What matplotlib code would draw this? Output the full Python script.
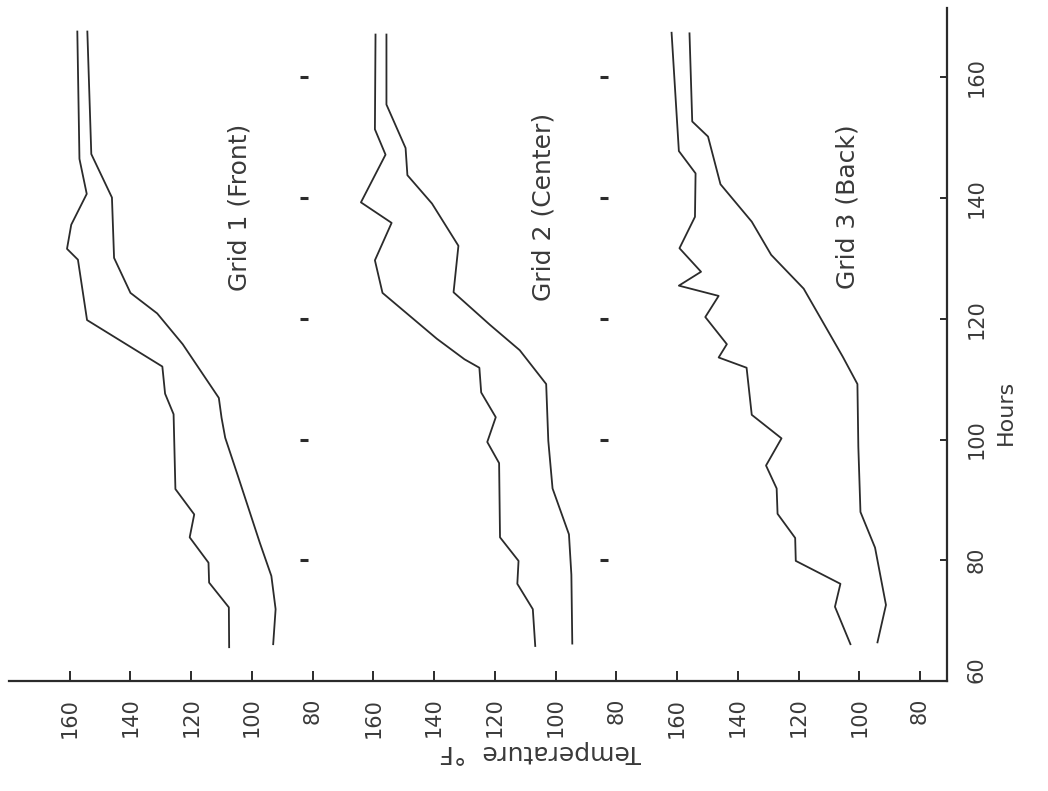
import matplotlib
matplotlib.use("Agg")
import matplotlib.pyplot as plt

# ---------------- data (hours, temperature degF) ----------------
g1_hi_h = [167.6, 146.5, 140.7, 135.6, 131.6, 129.8, 119.8, 112.1, 107.6, 104.2, 91.8, 87.6, 83.8, 79.6, 76.3, 72.2, 65.6]
g1_hi_t = [157.5, 156.8, 154.4, 159.5, 160.9, 157.3, 154.3, 129.5, 128.6, 125.8, 125.2, 119.0, 120.5, 114.3, 114.1, 107.6, 107.5]
g1_lo_h = [167.6, 147.3, 140.1, 130.1, 124.3, 120.9, 115.8, 106.9, 103.6, 100.3, 94.1, 82.9, 77.4, 71.9, 66.1]
g1_lo_t = [154.2, 152.9, 146.1, 145.4, 140.0, 131.2, 122.8, 110.9, 110.0, 108.8, 104.7, 97.4, 93.6, 92.2, 93.0]

g2_hi_h = [167.1, 151.4, 147.2, 139.3, 135.9, 129.7, 124.3, 116.7, 113.3, 111.9, 107.8, 103.7, 99.6, 96.1, 83.8, 79.9, 76.1, 71.9, 65.8]
g2_hi_t = [159.3, 159.5, 156.0, 164.1, 154.0, 159.5, 157.0, 139.1, 130.0, 125.1, 124.5, 119.7, 122.5, 118.6, 118.3, 112.2, 112.6, 107.5, 106.7]
g2_lo_h = [167.1, 155.5, 148.3, 143.8, 139.1, 132.1, 124.4, 119.0, 114.8, 109.2, 99.8, 91.9, 84.3, 77.6, 66.2]
g2_lo_t = [155.7, 155.7, 149.4, 148.8, 140.7, 132.0, 133.6, 121.6, 111.8, 103.1, 102.4, 101.0, 95.6, 94.8, 94.5]

g3_hi_h = [167.4, 147.8, 144.1, 136.9, 131.7, 127.8, 125.5, 123.8, 120.3, 115.8, 113.6, 111.9, 104.1, 100.2, 95.7, 91.9, 87.7, 83.7, 79.9, 76.1, 72.3, 66.1]
g3_hi_t = [161.8, 159.4, 153.9, 154.1, 159.2, 152.1, 159.4, 146.3, 150.7, 143.6, 146.3, 137.1, 135.4, 125.6, 130.7, 127.2, 126.9, 121.1, 120.9, 106.2, 108.0, 102.9]
g3_lo_h = [167.3, 152.7, 150.2, 142.3, 136.1, 130.6, 125.0, 113.7, 109.2, 98.8, 88.0, 82.1, 72.6, 66.4]
g3_lo_t = [155.9, 155.0, 149.8, 145.7, 135.4, 129.0, 118.3, 105.4, 100.6, 100.3, 99.6, 94.8, 91.2, 94.0]

grid_names = ["Grid 1 (Front)", "Grid 2 (Center)", "Grid 3 (Back)"]
temp_tick_labels = ["160", "140", "120", "100", "80"] * 3
hour_ticks = [60, 80, 100, 120, 140, 160]
panel_tick_hours = [80, 100, 120, 140, 160]

# ---------------- layout helpers ----------------
# Chart is drawn rotated 90 degrees: hours run upward, temperature runs leftward,
# the three grids stand side by side, each shifted by 100 units.
PANEL_SHIFT = 100
BASE = 180


def tpos(temps, k):
    return [BASE + PANEL_SHIFT * k - t for t in temps]


W, H = 1048, 791
fig = plt.figure(figsize=(W / 100, H / 100), dpi=100)
fig.patch.set_facecolor("white")
ax = fig.add_axes([9 / W, 1 - 681 / H, (947 - 9) / W, (681 - 8) / H])

ink = "#2b2b2b"
txt = "#3a3a3a"
series = [
    (g1_hi_h, g1_hi_t, g1_lo_h, g1_lo_t),
    (g2_hi_h, g2_hi_t, g2_lo_h, g2_lo_t),
    (g3_hi_h, g3_hi_t, g3_lo_h, g3_lo_t),
]
for k, (hh, ht, lh, lt) in enumerate(series):
    ax.plot(tpos(ht, k), hh, color=ink, lw=1.3)
    ax.plot(tpos(lt, k), lh, color=ink, lw=1.3)
    ax.text(76 + PANEL_SHIFT * k, 138.5, grid_names[k], rotation=90,
            ha="center", va="center", fontsize=18, color=txt)

# internal hour tick dashes between panels
for xs in (97, 196):
    ax.plot([xs] * len(panel_tick_hours), panel_tick_hours, linestyle="none",
            marker="_", markersize=6, mew=2.2, color=ink)

ax.set_xlim(0, 308.9)
ax.set_ylim(60, 171.5)

for side in ("top", "left"):
    ax.spines[side].set_visible(False)
for side in ("bottom", "right"):
    ax.spines[side].set_linewidth(1.6)
    ax.spines[side].set_color(ink)

ax.set_xticks(list(range(20, 301, 20)))
ax.set_xticklabels(temp_tick_labels, rotation=90, fontsize=15, color=txt)
ax.tick_params(axis="x", direction="in", length=7, width=1.4, color=ink, pad=12)

ax.yaxis.tick_right()
ax.set_yticks(hour_ticks[1:])
ax.set_yticklabels([str(h) for h in hour_ticks[1:]], rotation=90, va="center",
                   fontsize=15, color=txt)
ax.tick_params(axis="y", direction="in", length=5, width=1.4, color=ink, pad=14)
fig.text(977 / W, 1 - 670 / H, str(hour_ticks[0]), rotation=90, ha="center",
         va="center", fontsize=15, color=txt)

fig.text(1006 / W, 1 - 412 / H, "Hours", rotation=90, ha="center", va="center",
         fontsize=16, color=txt)
fig.text(540 / W, 1 - 752 / H, "Temperature  \u00b0F", rotation=180, ha="center",
         va="center", fontsize=18, color=txt)

fig.savefig("out.png", dpi=100, facecolor="white")
